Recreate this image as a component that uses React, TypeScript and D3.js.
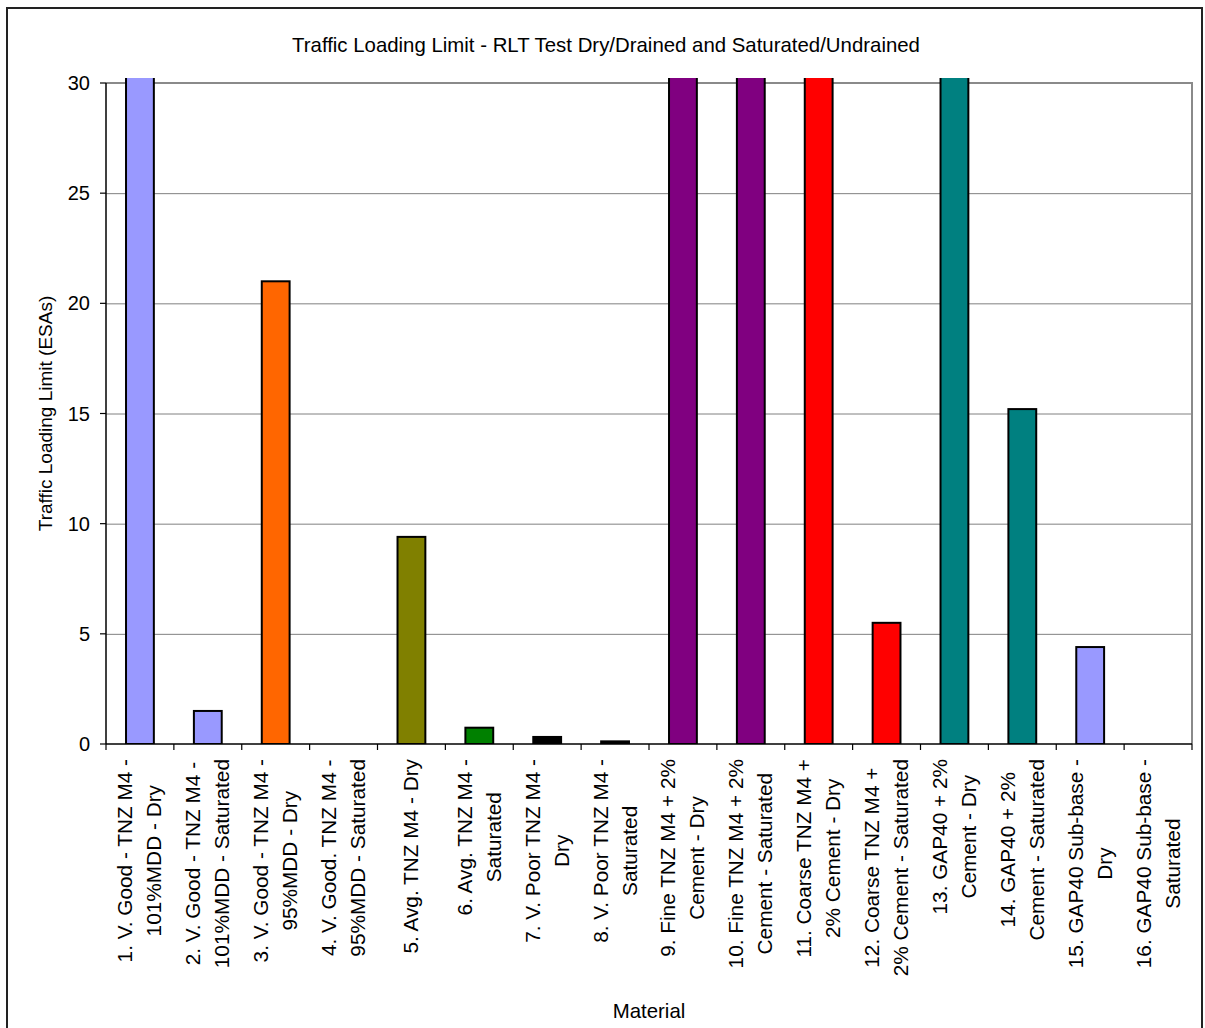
import React, { useEffect, useRef } from "react";
import * as d3 from "d3";

const categories: string[][] = [
  ["1. V. Good - TNZ M4 -", "101%MDD - Dry"],
  ["2. V. Good - TNZ M4 -", "101%MDD - Saturated"],
  ["3. V. Good - TNZ M4 -", "95%MDD - Dry"],
  ["4. V. Good. TNZ M4 -", "95%MDD - Saturated"],
  ["5. Avg. TNZ M4 - Dry"],
  ["6. Avg. TNZ M4 -", "Saturated"],
  ["7. V. Poor TNZ M4 -", "Dry"],
  ["8. V. Poor TNZ M4 -", "Saturated"],
  ["9. Fine TNZ M4 + 2%", "Cement - Dry"],
  ["10. Fine TNZ M4 + 2%", "Cement - Saturated"],
  ["11. Coarse TNZ M4 +", "2% Cement - Dry"],
  ["12. Coarse TNZ M4 +", "2% Cement - Saturated"],
  ["13. GAP40 + 2%", "Cement - Dry"],
  ["14. GAP40 + 2%", "Cement - Saturated"],
  ["15. GAP40 Sub-base -", "Dry"],
  ["16. GAP40 Sub-base -", "Saturated"],
];

// values above 30 are off the axis in the original (drawn clipped at 30)
const values: number[] = [30, 1.5, 21, 0, 9.4, 0.74, 0.32, 0.12, 30, 30, 30, 5.5, 30, 15.2, 4.4, 0];

const barColors: string[] = [
  "#9999FF", "#9999FF", "#FF6600", "#FF6600", "#808000", "#008000", "#000000", "#000000",
  "#800080", "#800080", "#FF0000", "#FF0000", "#008080", "#008080", "#9999FF", "#9999FF",
];

const yTicks: number[] = [0, 5, 10, 15, 20, 25, 30];

const title = "Traffic Loading Limit - RLT Test Dry/Drained and Saturated/Undrained";
const yTitle = "Traffic Loading Limit (ESAs)";
const xTitle = "Material";

const W = 1205;
const H = 1028;
const FONT = "'Liberation Sans', Arial, Helvetica, sans-serif";

export default function App() {
  const ref = useRef<SVGSVGElement | null>(null);

  useEffect(() => {
    const svg = d3.select(ref.current);
    svg.selectAll("*").remove();

    const left = 106, right = 1192, top = 83, bottom = 744;
    const yMax = 30;

    const x = d3.scaleBand<number>().domain(d3.range(categories.length)).range([left, right]).paddingInner(0).paddingOuter(0);
    const y = d3.scaleLinear().domain([0, yMax]).range([bottom, top]);

    // chart area border
    svg.append("rect").attr("x", 7).attr("y", 8).attr("width", 1195).attr("height", 1060)
      .attr("fill", "#fff").attr("stroke", "#222").attr("stroke-width", 2);

    // title
    svg.append("text").attr("x", 606).attr("y", 52).attr("text-anchor", "middle")
      .attr("font-family", FONT).attr("font-size", 20.4).attr("fill", "#000").text(title);

    // gridlines
    svg.append("g").selectAll("line").data(yTicks.filter((t) => t > 0 && t < yMax)).join("line")
      .attr("x1", left).attr("x2", right).attr("y1", (d) => y(d) + 0.5).attr("y2", (d) => y(d) + 0.5)
      .attr("stroke", "#808080").attr("stroke-width", 1);

    // plot border top/right
    svg.append("path")
      .attr("d", `M${left},${y(yMax)}H${right}V${bottom}`)
      .attr("fill", "none").attr("stroke", "#8a8a8a").attr("stroke-width", 2);

    // bars with clipping
    const clipId = "plotclip";
    svg.append("defs").append("clipPath").attr("id", clipId).append("rect")
      .attr("x", left).attr("y", y(yMax) - 5).attr("width", right - left).attr("height", bottom - y(yMax) + 5);

    const barW = x.bandwidth() * 0.41;
    svg.append("g").attr("clip-path", `url(#${clipId})`).selectAll("rect")
      .data(values.map((v, i) => ({ v, i })).filter((d) => d.v > 0)).join("rect")
      .attr("x", (d) => (x(d.i) as number) + x.bandwidth() / 2 - barW / 2)
      .attr("y", (d) => (d.v >= yMax ? y(yMax) - 12 : y(d.v)))
      .attr("width", barW)
      .attr("height", (d) => (d.v >= yMax ? bottom - y(yMax) + 12 : bottom - y(d.v)))
      .attr("fill", (d) => barColors[d.i])
      .attr("stroke", "#000").attr("stroke-width", 2);

    // y axis
    const ya = svg.append("g");
    ya.append("line").attr("x1", left).attr("x2", left).attr("y1", top).attr("y2", bottom)
      .attr("stroke", "#000").attr("stroke-width", 1.5);
    ya.selectAll("line.tk").data(yTicks).join("line").attr("class", "tk")
      .attr("x1", left - 6).attr("x2", left).attr("y1", (d) => y(d)).attr("y2", (d) => y(d))
      .attr("stroke", "#000").attr("stroke-width", 1.2);
    ya.selectAll("text").data(yTicks).join("text")
      .attr("x", 90).attr("y", (d) => y(d) + 7).attr("text-anchor", "end")
      .attr("font-family", FONT).attr("font-size", 20).attr("fill", "#000").text((d) => String(d));

    // x axis
    const xa = svg.append("g");
    xa.append("line").attr("x1", left).attr("x2", right).attr("y1", bottom).attr("y2", bottom)
      .attr("stroke", "#000").attr("stroke-width", 1.5);
    const bounds = d3.range(categories.length + 1).map((i) => (i < categories.length ? (x(i) as number) : right));
    xa.selectAll("line.tk").data(bounds).join("line").attr("class", "tk")
      .attr("x1", (d) => d).attr("x2", (d) => d).attr("y1", bottom).attr("y2", bottom + 6)
      .attr("stroke", "#000").attr("stroke-width", 1.2);

    // category labels
    const labelTop = 759;
    const lineH = 29;
    categories.forEach((lines, i) => {
      const cx = (x(i) as number) + x.bandwidth() / 2;
      const g = xa.append("g");
      const texts = lines.map((ln) =>
        g.append("text").attr("font-family", FONT).attr("font-size", 20.8).attr("fill", "#000")
          .attr("text-anchor", "middle").text(ln)
      );
      const maxLen = d3.max(texts, (t) => (t.node() as SVGTextElement).getComputedTextLength()) || 0;
      const cy = labelTop + maxLen / 2;
      const n = lines.length;
      texts.forEach((t, j) => {
        const bx = cx + 7 + (j - (n - 1) / 2) * lineH;
        t.attr("transform", `translate(${bx},${cy}) rotate(-90)`);
      });
    });

    // axis titles
    svg.append("text").attr("transform", `translate(52,${(top + bottom) / 2}) rotate(-90)`)
      .attr("text-anchor", "middle").attr("font-family", FONT).attr("font-size", 19).attr("fill", "#000")
      .text(yTitle);
    svg.append("text").attr("x", (left + right) / 2).attr("y", 1018).attr("text-anchor", "middle")
      .attr("font-family", FONT).attr("font-size", 20.4).attr("fill", "#000").text(xTitle);
  }, []);

  return (
    <svg ref={ref} width={W} height={H}
      style={{ position: "absolute", left: 0, top: 0, display: "block", background: "#fff" }} />
  );
}
